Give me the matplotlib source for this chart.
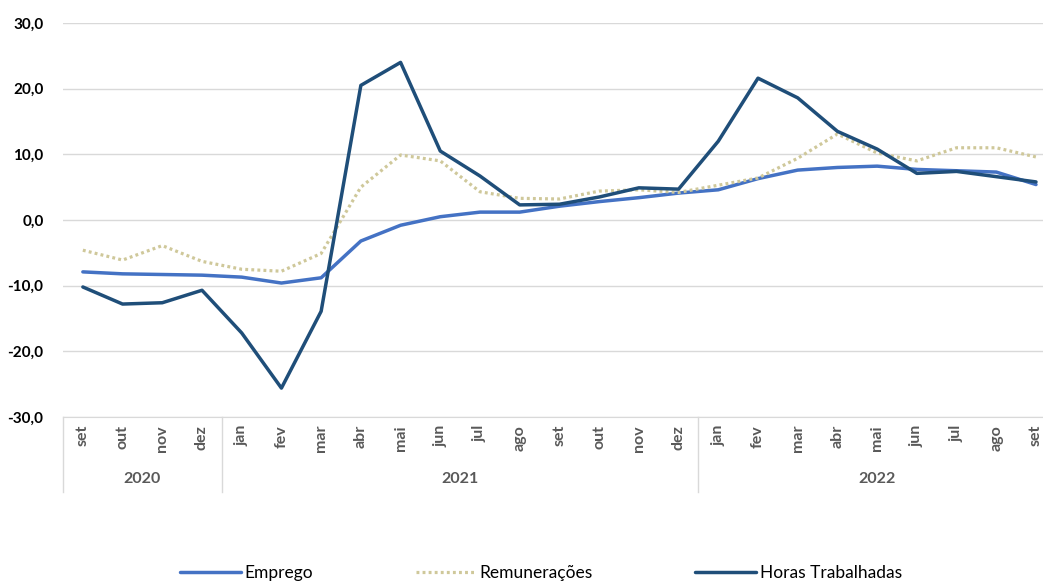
import matplotlib
matplotlib.use("Agg")
import matplotlib.pyplot as plt
from matplotlib.transforms import blended_transform_factory

months = ["set", "out", "nov", "dez",
          "jan", "fev", "mar", "abr", "mai", "jun", "jul", "ago", "set", "out", "nov", "dez",
          "jan", "fev", "mar", "abr", "mai", "jun", "jul", "ago", "set"]
years = ["2020", "2021", "2022"]
year_counts = [4, 12, 9]

emprego = [-7.9, -8.2, -8.3, -8.4, -8.7, -9.6, -8.8, -3.2, -0.8, 0.5, 1.2, 1.2,
           2.1, 2.8, 3.4, 4.1, 4.6, 6.3, 7.6, 8.0, 8.2, 7.7, 7.5, 7.3, 5.4]
remuneracoes = [-4.6, -6.1, -3.9, -6.3, -7.5, -7.8, -5.1, 5.0, 9.9, 9.0, 4.3, 3.3,
                3.2, 4.4, 4.6, 4.2, 5.3, 6.4, 9.4, 13.1, 10.2, 9.0, 11.0, 11.0, 9.6]
horas = [-10.2, -12.8, -12.6, -10.7, -17.2, -25.6, -13.9, 20.5, 24.0, 10.5, 6.7, 2.3,
         2.4, 3.5, 4.9, 4.7, 12.0, 21.6, 18.6, 13.5, 10.8, 7.1, 7.4, 6.6, 5.8]

plt.rcParams['font.family'] = ['Lato', 'DejaVu Sans']

fig = plt.figure(figsize=(10.43, 5.81), dpi=100)
W, H = 1043, 581
left, right, top, bottom = 63, 1043, 23, 417
ax = fig.add_axes([left / W, 1 - bottom / H, (right - left) / W, (bottom - top) / H])

x = list(range(len(months)))
ax.plot(x, emprego, color="#4472C4", lw=2.5, label="Emprego", solid_capstyle="round")
ax.plot(x, remuneracoes, color="#CFC89A", lw=2.3, ls=(0, (0.9, 1.0)), label="Remunerações",
        dash_capstyle="butt")
ax.plot(x, horas, color="#1F4E79", lw=2.5, label="Horas Trabalhadas", solid_capstyle="round")

ax.set_ylim(-30, 30)
ax.set_yticks(range(-30, 31, 10))
ax.set_yticklabels([f"{v},0" for v in range(-30, 31, 10)], fontweight="bold", fontsize=11)
ax.set_xlim(-0.5, len(months) - 1 + (right - 1036) / 39.7)
ax.grid(axis="y", color="#D9D9D9", lw=1)
ax.set_axisbelow(True)
for s in ["top", "right", "left"]:
    ax.spines[s].set_visible(False)
ax.spines["bottom"].set_color("#D9D9D9")
ax.tick_params(axis="y", length=0, pad=14)
ax.tick_params(axis="x", length=0)
ax.set_xticks(x)
ax.set_xticklabels([])

trans = blended_transform_factory(ax.transData, ax.transAxes)
axh = bottom - top
for i, m in enumerate(months):
    ax.text(i, -(425 - bottom) / axh, m, rotation=90, ha="center", va="top",
            fontsize=11.5, fontweight="bold", color="#595959", transform=trans)

start = 0
seps = [-0.5]
for yname, cnt in zip(years, year_counts):
    end = start + cnt
    ax.text((start + end - 1) / 2, -(479 - bottom) / axh, yname, ha="center", va="center",
            fontsize=11.5, fontweight="bold", color="#595959", transform=trans)
    seps.append(end - 0.5)
    start = end
for s in seps[:-1]:
    ax.plot([s, s], [0, -(492 - bottom) / axh], color="#D9D9D9", lw=1,
            transform=trans, clip_on=False)

leg = fig.legend(loc="center", bbox_to_anchor=(541 / W, 1 - 573 / H), ncol=3, frameon=False,
                 fontsize=12.5, columnspacing=5.9, handlelength=3.5, handletextpad=0.2)
plt.savefig("out.png", dpi=100)
